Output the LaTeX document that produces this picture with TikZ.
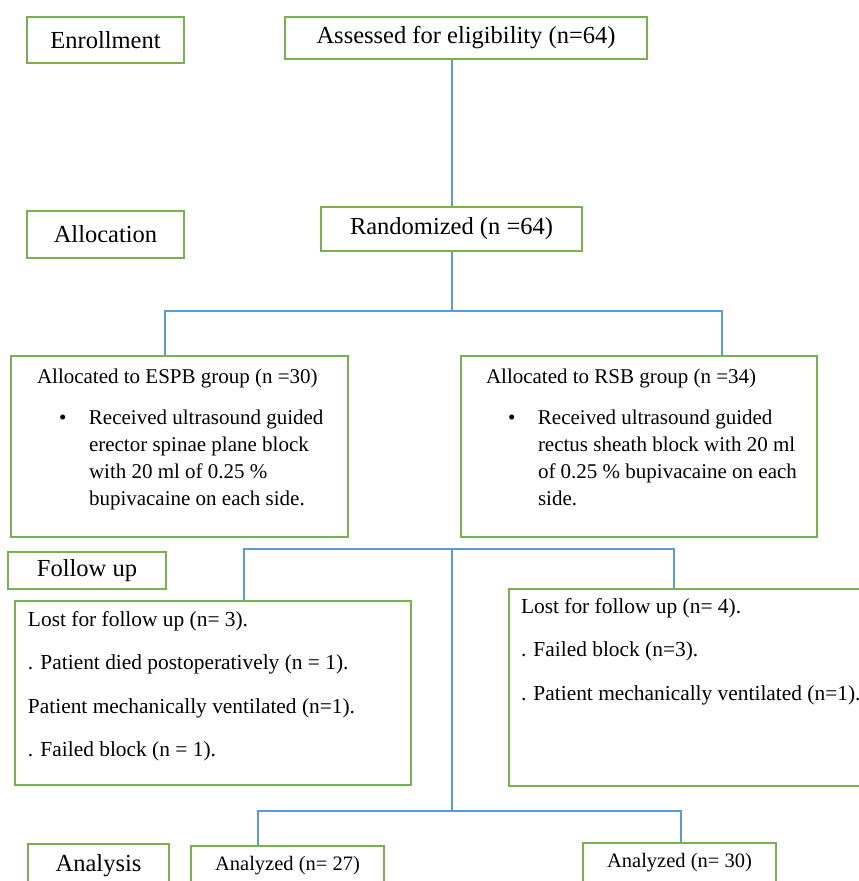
\documentclass[tikz,border=0pt]{standalone}
\usepackage{fontspec}
\setmainfont{Liberation Serif}
\definecolor{boxgreen}{RGB}{120,178,80}
\definecolor{lineblue}{RGB}{91,155,213}
\newcommand{\headfont}{\fontsize{24.5}{28}\selectfont}
\newcommand{\anfont}{\fontsize{20.5}{24}\selectfont}
\newcommand{\allocfont}{\fontsize{21}{27}\selectfont}
\newcommand{\lostfont}{\fontsize{21.4}{43.5}\selectfont}
\newcommand{\topblock}[5]{\parbox[c][#2][t]{#1}{\vskip#3\relax\raggedright\leftskip=#4\relax #5\par}}
\newcommand{\bul}{\hspace*{22pt}\makebox[30pt][l]{\textbullet}}
\newcommand{\cont}{\hspace*{52pt}}
\begin{document}
\begin{tikzpicture}[x=1pt, y=-1pt]

\clip (0,0) rectangle (859,881);
\tikzset{greenbox/.style={draw=boxgreen, line width=2pt, inner sep=0pt, anchor=north west}}
\tikzset{headbox/.style={greenbox, font=\headfont}}
\node[headbox, minimum width=157, minimum height=46] (enroll) at (26,16) {Enrollment};
\node[headbox, minimum width=362, minimum height=42] (assess) at (284,16) {Assessed for eligibility (n=64)};
\node[headbox, minimum width=157, minimum height=47] (alloc) at (26,210) {Allocation};
\node[headbox, minimum width=261, minimum height=44] (rand) at (320,206) {Randomized (n =64)};

\node[greenbox, font=\allocfont] (espb) at (10,355) {\topblock{337pt}{181pt}{12.5pt}{26pt}{Allocated to ESPB group (n =30)\\[14pt]
  \bul Received ultrasound guided\\ \cont erector spinae plane block\\ \cont with 20 ml of 0.25 \%\\ \cont bupivacaine on each side.}};
\node[greenbox, font=\allocfont] (rsb) at (460,355) {\topblock{356pt}{181pt}{12.5pt}{25pt}{Allocated to RSB group (n =34)\\[14pt]
  \bul Received ultrasound guided\\ \cont rectus sheath block with 20 ml\\ \cont of 0.25 \% bupivacaine on each\\ \cont side.}};

\node[headbox, minimum width=158, minimum height=37] (follow) at (7,551) {Follow up};
\node[greenbox, font=\lostfont] (lostespb) at (14,600) {\topblock{396pt}{184pt}{10pt}{13pt}{Lost for follow up (n= 3).\\
  . Patient died postoperatively (n = 1).\\ Patient mechanically ventilated (n=1).\\ . Failed block (n = 1).}};
\node[greenbox, font=\lostfont] (lostrsb) at (508,588) {\topblock{362pt}{197pt}{9pt}{12pt}{Lost for follow up (n= 4).\\
  . Failed block (n=3).\\ . Patient mechanically ventilated (n=1).}};

\node[headbox, minimum width=141, minimum height=44] (analysis) at (27,843) {Analysis};
\node[greenbox, font=\anfont, minimum width=193, minimum height=40] (an27) at (190,845) {Analyzed (n= 27)};
\node[greenbox, font=\anfont, minimum width=193, minimum height=40] (an30) at (582,842) {Analyzed (n= 30)};

\tikzset{flowline/.style={draw=lineblue, line width=2pt}}
\coordinate (allocL) at (165,311);
\coordinate (allocR) at (722,311);
\coordinate (followL) at (244,549);
\coordinate (followR) at (674,549);
\coordinate (followC) at (452,549);
\coordinate (analysisL) at (258,811);
\coordinate (analysisR) at (681,811);
\coordinate (analysisC) at (452,811);

\path[flowline] (rand.north) -- (rand.north |- assess.south);
\path[flowline] (rand.south) -- (rand.south |- allocL);
\path[flowline] (allocL |- espb.north) -- (allocL) -- (allocR) -- (allocR |- rsb.north);
\path[flowline] (followL |- lostespb.north) -- (followL) -- (followR) -- (followR |- lostrsb.north);
\path[flowline] (followC) -- (analysisC);
\path[flowline] (analysisL |- an27.north) -- (analysisL) -- (analysisR) -- (analysisR |- an30.north);
\end{tikzpicture}
\end{document}
